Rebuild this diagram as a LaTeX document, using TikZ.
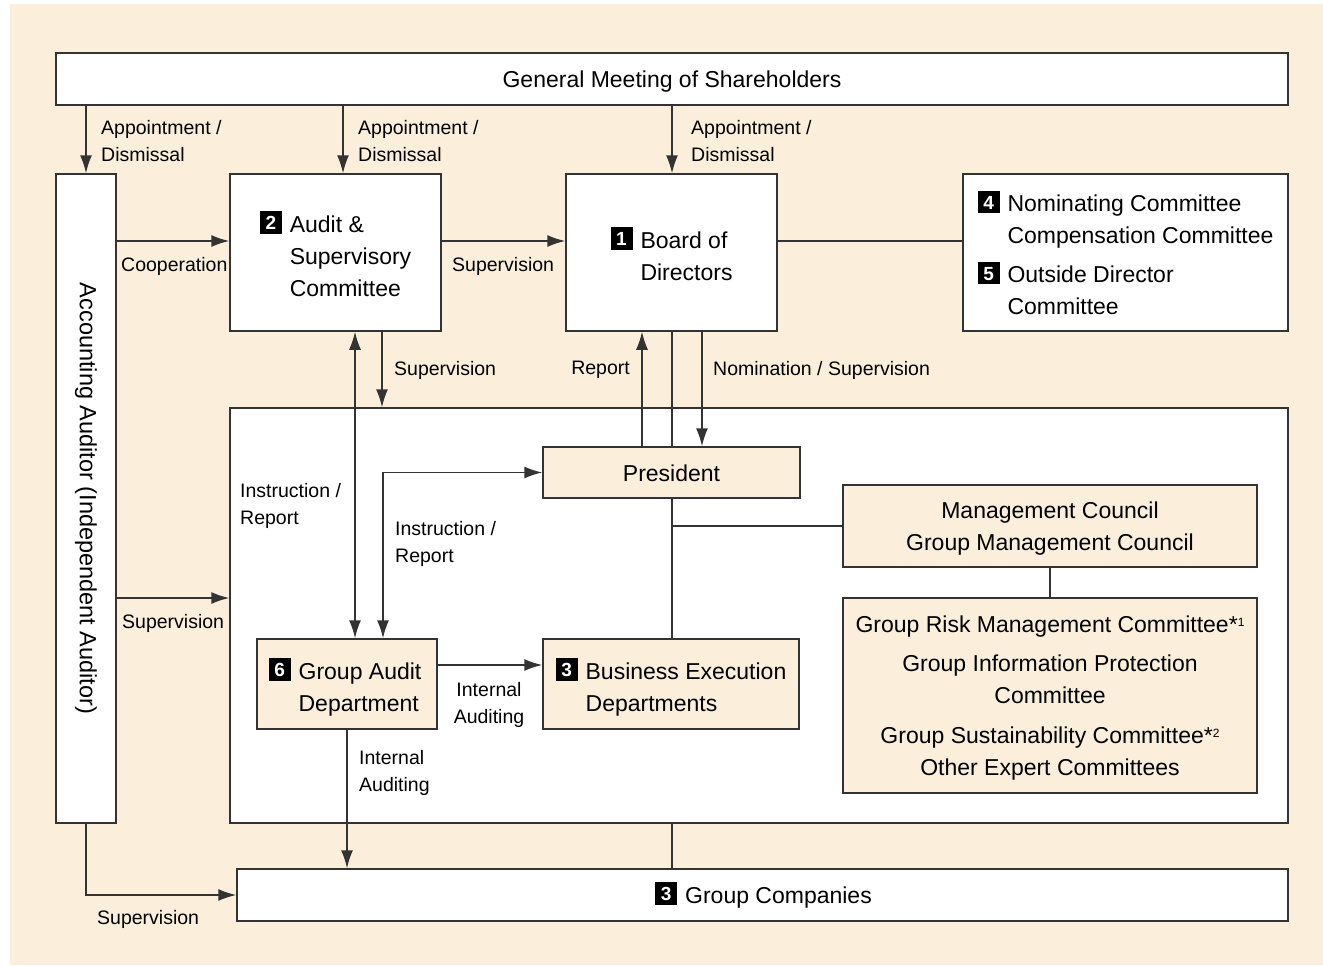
\documentclass[tikz,border=0pt]{standalone}
\usepackage{fontspec}
\setmainfont{Liberation Sans}
\usetikzlibrary{arrows.meta}
\definecolor{paper}{HTML}{FBEFDC}
\definecolor{ink}{HTML}{333333}
% numbered black badge in front of a committee name
\newcommand\badge[1]{{\setlength{\fboxsep}{0pt}\colorbox{black}{\makebox[22pt]{\rule[-1.5pt]{0pt}{22.5pt}\raisebox{2.5pt}{\textcolor{white}{\bfseries\fontsize{19}{19}\selectfont#1}}}}}}
\newcommand\note[1]{\raisebox{6pt}{\fontsize{12}{12}\selectfont#1}}
\newcommand\boxfont{\fontsize{23}{32}\selectfont}
\begin{document}
\begin{tikzpicture}[x=1pt,y=-1pt,
  box/.style={draw=ink,line width=1.5pt,fill=white,inner sep=0pt},
  tan/.style={box,fill=paper},
  txt/.style={inner sep=0pt,font=\boxfont,align=center},
  lbl/.style={inner sep=0pt,anchor=west,align=left,yshift=-2pt,font=\fontsize{19.5}{27}\selectfont},
  conn/.style={draw=ink,line width=1.5pt},
  arr/.style={conn,-{Latex[length=18pt,width=12pt]}},
  arrboth/.style={conn,{Latex[length=18pt,width=12pt]}-{Latex[length=18pt,width=12pt]}}]
\useasboundingbox (0,0) rectangle (1323,966);
\fill[paper] (10,4) rectangle (1323,965);

% governing bodies
\node[box,minimum width=1232pt,minimum height=52pt] (gms) at (672,79) {};
\node[txt] (gms-t) at ([yshift=-2.5pt]gms.center) {General Meeting of Shareholders};
\node[box,minimum width=60pt,minimum height=649pt] (acc) at (86,498.5) {};
\node[txt,rotate=-90,font=\fontsize{23.5}{32}\selectfont] (acc-t) at (acc.center) {Accounting Auditor (Independent Auditor)};
\node[box,minimum width=211pt,minimum height=157pt] (asc) at (335.5,252.5) {};
\node[txt] (asc-t) at ([yshift=-5.5pt]asc.center)
  {\begin{tabular}{@{}l@{\hspace{8pt}}l@{}}\badge{2} & Audit \&\\ & Supervisory\\ & Committee\end{tabular}};
\node[box,minimum width=211pt,minimum height=157pt] (bod) at (671.5,252.5) {};
\node[txt] (bod-t) at ([yshift=-5.5pt]bod.center)
  {\begin{tabular}{@{}l@{\hspace{8pt}}l@{}}\badge{1} & Board of\\ & Directors\end{tabular}};
\node[box,minimum width=325pt,minimum height=157pt] (nom) at (1125.5,252.5) {};
\node[txt] (nom-t) at ([yshift=-4.5pt]nom.center)
  {\begin{tabular}{@{}l@{\hspace{8pt}}l@{}}\badge{4} & Nominating Committee\\ & Compensation Committee\\[7pt] \badge{5} & Outside Director\\ & Committee\end{tabular}};

% execution area
\node[box,minimum width=1058pt,minimum height=415pt] (exec) at (759,615.5) {};
\node[tan,minimum width=257pt,minimum height=51pt] (pres) at (671.5,472.5) {};
\node[txt] (pres-t) at ([yshift=-1pt]pres.center) {President};
\node[tan,minimum width=414pt,minimum height=82pt] (mc) at (1050,526) {};
\node[txt] (mc-t) at ([yshift=-3pt]mc.center) {Management Council\\Group Management Council};
\node[tan,minimum width=414pt,minimum height=195pt] (cmt) at (1050,695.5) {};
\node[txt] (cmt-t) at ([yshift=-2.5pt]cmt.center)
  {Group Risk Management Committee*\note{1}\\[7pt]
   Group Information Protection\\Committee\\[8pt]
   Group Sustainability Committee*\note{2}\\Other Expert Committees};
\node[tan,minimum width=180pt,minimum height=90pt] (gad) at (347,684) {};
\node[txt] (gad-t) at ([xshift=-2pt,yshift=-5pt]gad.center)
  {\begin{tabular}{@{}l@{\hspace{8pt}}l@{}}\badge{6} & Group Audit\\ & Department\end{tabular}};
\node[tan,minimum width=256pt,minimum height=90pt] (bed) at (671,684) {};
\node[txt] (bed-t) at ([yshift=-5pt]bed.center)
  {\begin{tabular}{@{}l@{\hspace{8pt}}l@{}}\badge{3} & Business Execution\\ & Departments\end{tabular}};
\node[box,minimum width=1051pt,minimum height=52pt] (gco) at (762.5,895) {};
\node[txt] (gco-t) at ([xshift=1pt]gco.center) {\badge{3}\hspace{8pt}Group Companies};

% connector anchors
\coordinate (a2) at ([xshift=7.5pt]asc.north);
\coordinate (c1) at ([yshift=11.5pt]asc.west);
\coordinate (c2) at ([xshift=8pt]gad.north);
\coordinate (c3) at ([xshift=46.5pt]asc.south);
\coordinate (c4) at ([xshift=-29.5pt]pres.north);
\coordinate (c4b) at ([xshift=30.5pt]bod.south);
\coordinate (c5) at ([xshift=36pt]gad.north);
\coordinate (c6) at ([yshift=19pt]gad.east);
\coordinate (c7) at ([yshift=17.5pt]exec.west);
\coordinate (spine) at ([xshift=0.5pt]pres.south);

% connectors
\draw[arr] (gms.south -| acc.center) -- (acc.north);
\draw[arr] (gms.south -| a2) -- (a2);
\draw[arr] (gms.south -| spine) -- (spine |- bod.north);
\draw[arr] (acc.east |- c1) -- (c1);
\draw[arr] (asc.east |- c1) -- (bod.west |- c1);
\draw[conn] (bod.east |- c1) -- (nom.west |- c1);
\draw[arrboth] (asc.south -| c2) -- (c2);
\draw[arr] (c3) -- (c3 |- exec.north);
\draw[arr] (c4) -- (c4 |- bod.south);
\draw[conn] (spine |- bod.south) -- (spine |- pres.north);
\draw[arr] (c4b) -- (c4b |- pres.north);
\draw[arrboth] (c5) |- (pres.west);
\draw[conn] (spine) -- (spine |- bed.north);
\draw[conn] (spine |- mc.west) -- (mc.west);
\draw[conn] (mc.south) -- (cmt.north);
\draw[arr] (c6) -- (bed.west |- c6);
\draw[arr] (gad.south) -- (gad.south |- gco.north);
\draw[arr] (acc.east |- c7) -- (c7);
\draw[conn] (spine |- exec.south) -- (spine |- gco.north);
\draw[arr] (acc.south) |- (gco.west);

% connector labels
\node[lbl] (l1) at (101,139.5) {Appointment /\\Dismissal};
\node[lbl] (l2) at (358,139.5) {Appointment /\\Dismissal};
\node[lbl] (l3) at (691,139.5) {Appointment /\\Dismissal};
\node[lbl] (l4) at (121,264) {Cooperation};
\node[lbl] (l5) at (452,264) {Supervision};
\node[lbl] (l6) at (394,368) {Supervision};
\node[lbl,anchor=east] (l7) at (630,368) {Report};
\node[lbl] (l8) at (713,368) {Nomination / Supervision};
\node[lbl] (l9) at (240,503.5) {Instruction /\\Report};
\node[lbl] (l10) at (395,542) {Instruction /\\Report};
\node[lbl] (l11) at (122,621) {Supervision};
\node[lbl,anchor=center,align=center] (l12) at (489,703) {Internal\\Auditing};
\node[lbl] (l13) at (359,770.5) {Internal\\Auditing};
\node[lbl] (l14) at (97,917) {Supervision};
\end{tikzpicture}
\end{document}
